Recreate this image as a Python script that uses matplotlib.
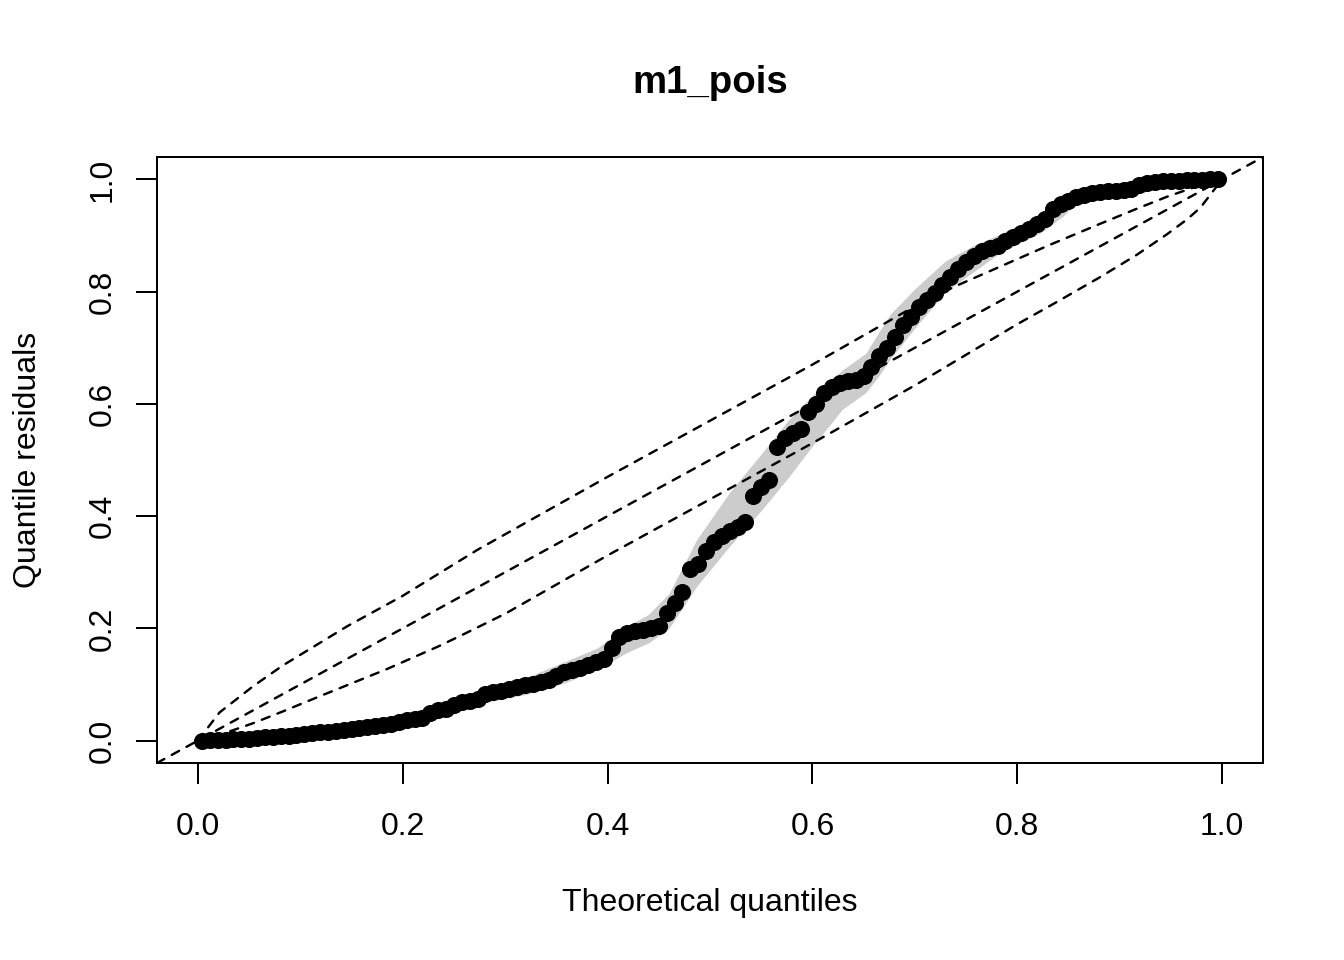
import matplotlib
matplotlib.use("Agg")
import matplotlib.pyplot as plt
import numpy as np

plt.rcParams['font.family'] = ['Liberation Sans', 'DejaVu Sans']

# ---------------- data ----------------
n_points = 130
resid_q = [
    0.0000, 0.0005, 0.0010, 0.0015, 0.0020, 0.0030, 0.0035, 0.0045, 0.0055, 0.0065,
    0.0075, 0.0090, 0.0100, 0.0115, 0.0130, 0.0145, 0.0155, 0.0170, 0.0185, 0.0200,
    0.0215, 0.0235, 0.0255, 0.0275, 0.0300, 0.0330, 0.0360, 0.0390, 0.0410, 0.0500,
    0.0540, 0.0570, 0.0630, 0.0680, 0.0700, 0.0740, 0.0830, 0.0870, 0.0890, 0.0920,
    0.0950, 0.0990, 0.1010, 0.1040, 0.1080, 0.1150, 0.1220, 0.1260, 0.1290, 0.1340,
    0.1400, 0.1450, 0.1650, 0.1850, 0.1920, 0.1950, 0.1970, 0.2000, 0.2050, 0.2280,
    0.2460, 0.2640, 0.3050, 0.3140, 0.3370, 0.3530, 0.3640, 0.3730, 0.3800, 0.3900,
    0.4350, 0.4510, 0.4650, 0.5240, 0.5400, 0.5490, 0.5560, 0.5860, 0.5990, 0.6200,
    0.6300, 0.6370, 0.6400, 0.6430, 0.6500, 0.6650, 0.6850, 0.7000, 0.7200, 0.7400,
    0.7550, 0.7720, 0.7850, 0.7980, 0.8120, 0.8260, 0.8400, 0.8530, 0.8630, 0.8720,
    0.8770, 0.8810, 0.8900, 0.8970, 0.9040, 0.9120, 0.9200, 0.9290, 0.9480, 0.9560,
    0.9620, 0.9680, 0.9730, 0.9750, 0.9770, 0.9790, 0.9800, 0.9810, 0.9830, 0.9900,
    0.9940, 0.9960, 0.9970, 0.9980, 0.9980, 0.9990, 0.9990, 0.9995, 1.0000, 1.0000,
]

# simulation band (grey)
band_x  = [0.24, 0.28, 0.32, 0.36, 0.39, 0.42, 0.44, 0.46, 0.487, 0.519, 0.551, 0.577,
           0.60, 0.616, 0.629, 0.652, 0.665, 0.676, 0.70, 0.73, 0.757, 0.78, 0.80, 0.823, 0.845, 0.86]
band_lo = [0.045, 0.068, 0.082, 0.104, 0.127, 0.158, 0.174, 0.200, 0.275, 0.346, 0.412, 0.470,
           0.525, 0.560, 0.590, 0.620, 0.650, 0.680, 0.735, 0.800, 0.835, 0.865, 0.885, 0.905, 0.935, 0.962]
band_hi = [0.065, 0.092, 0.112, 0.142, 0.165, 0.205, 0.225, 0.262, 0.358, 0.442, 0.513, 0.572,
           0.615, 0.640, 0.660, 0.690, 0.728, 0.760, 0.805, 0.855, 0.882, 0.900, 0.916, 0.941, 0.955, 0.970]

# dashed reference curves
upper_x = [0, 0.021, 0.054, 0.083, 0.119, 0.146, 0.20, 0.273, 0.40, 0.50, 0.60, 0.70, 0.74, 0.80, 0.83, 0.881, 0.917, 0.946, 0.979, 1.0]
upper_y = [0, 0.050, 0.097, 0.134, 0.174, 0.204, 0.258, 0.340, 0.470, 0.570, 0.670, 0.774, 0.810, 0.858, 0.882, 0.921, 0.948, 0.969, 0.990, 1.0]
lower_x = [0, 0.021, 0.054, 0.083, 0.119, 0.184, 0.235, 0.26, 0.30, 0.40, 0.50, 0.60, 0.70, 0.80, 0.84, 0.881, 0.917, 0.946, 0.966, 0.979, 1.0]
lower_y = [0, 0.010, 0.031, 0.052, 0.079, 0.127, 0.168, 0.190, 0.226, 0.330, 0.430, 0.530, 0.633, 0.742, 0.783, 0.826, 0.866, 0.902, 0.929, 0.950, 1.0]

tick_vals = [0.0, 0.2, 0.4, 0.6, 0.8, 1.0]
tick_labels = ["0.0", "0.2", "0.4", "0.6", "0.8", "1.0"]

# ---------------- figure ----------------
W, H = 1344, 960
fig = plt.figure(figsize=(7, 5), dpi=192)
ax = fig.add_axes([157 / W, 1 - 763 / H, (1263 - 157) / W, (763 - 157) / H])

theo_q = (np.arange(1, n_points + 1) - 0.5) / n_points

ax.fill_between(band_x, band_lo, band_hi, color='#CCCCCC', lw=0, zorder=1)

dash_kw = dict(color='black', lw=0.9, dashes=(3.5, 3.5), dash_capstyle='round', zorder=2)
ax.axline((0, 0), slope=1, **dash_kw)
ax.plot(upper_x, upper_y, **dash_kw)
ax.plot(lower_x, lower_y, **dash_kw)

ax.plot(theo_q, resid_q, 'o', color='black', ms=6.4, mew=0, zorder=3)

ax.set_xlim(-0.04, 1.04)
ax.set_ylim(-0.04, 1.04)
ax.set_xticks(tick_vals)
ax.set_xticklabels(tick_labels)
ax.set_yticks(tick_vals)
ax.set_yticklabels(tick_labels, rotation=90, va='center')
ax.tick_params(axis='both', direction='out', length=7.9, width=0.75, labelsize=12, colors='black')
ax.tick_params(axis='x', pad=10.6)
ax.tick_params(axis='y', pad=7.0)
for s in ax.spines.values():
    s.set_linewidth(0.75)
    s.set_color('black')

fig.text(710 / W, 1 - 93 / H, 'm1_pois', ha='center', va='baseline',
         fontsize=14.4, fontweight='bold')
fig.text(710 / W, 1 - 911.5 / H, 'Theoretical quantiles', ha='center', va='baseline', fontsize=12)
fig.text(36 / W, 1 - 460 / H, 'Quantile residuals', ha='center', va='baseline',
         rotation=90, rotation_mode='anchor', fontsize=12)

fig.savefig('out.png', dpi=192)
